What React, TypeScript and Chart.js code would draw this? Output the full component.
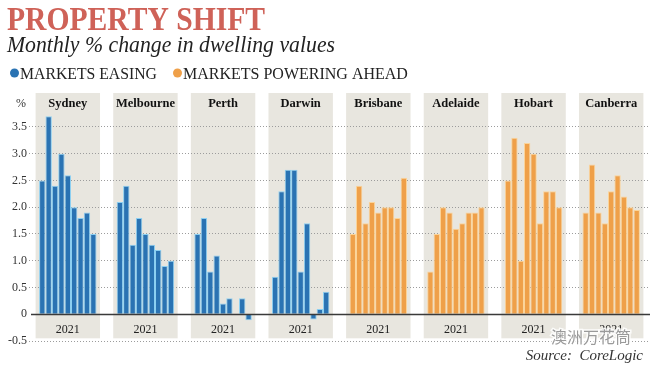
import React, { useEffect, useRef } from 'react';
import { Chart, registerables } from 'chart.js';

Chart.register(...registerables);

// ---------- data ----------
const cities = ['Sydney', 'Melbourne', 'Perth', 'Darwin', 'Brisbane', 'Adelaide', 'Hobart', 'Canberra'];
const easingCount = 4; // first four cities are "markets easing"
const periodLabel = '2021';

const sydney = [2.5, 3.7, 2.4, 3.0, 2.6, 2.0, 1.8, 1.9, 1.5];
const melbourne = [2.1, 2.4, 1.3, 1.8, 1.5, 1.3, 1.2, 0.9, 1.0];
const perth = [1.5, 1.8, 0.8, 1.1, 0.2, 0.3, 0, 0.3, -0.11];
const darwin = [0.7, 2.3, 2.7, 2.7, 0.8, 1.7, -0.1, 0.1, 0.42];
const brisbane = [1.5, 2.4, 1.7, 2.1, 1.9, 2.0, 2.0, 1.8, 2.55];
const adelaide = [0.8, 1.5, 2.0, 1.9, 1.6, 1.7, 1.9, 1.9, 2.0];
const hobart = [2.5, 3.3, 1.0, 3.2, 3.0, 1.7, 2.3, 2.3, 2.0];
const canberra = [1.9, 2.8, 1.9, 1.7, 2.3, 2.6, 2.2, 2.0, 1.95];

const cityValues = [sydney, melbourne, perth, darwin, brisbane, adelaide, hobart, canberra];
const monthCount = 9;

const yTicks = [-0.5, 0, 0.5, 1, 1.5, 2, 2.5, 3, 3.5];
const legendLabels = ['MARKETS EASING', 'MARKETS POWERING AHEAD'];
const titleText = 'PROPERTY SHIFT';
const subtitleText = 'Monthly % change in dwelling values';
const sourceText = 'Source:  CoreLogic';
const watermarkText = '澳洲万花筒';

// ---------- styles ----------
const BLUE = '#2a73b3';
const BLUE_EDGE = '#8ccff1';
const ORANGE = '#efa049';
const ORANGE_EDGE = '#fbd49a';
const PANEL = '#e8e6df';
const TITLE_RED = '#cf6258';
const SERIF = '"Liberation Serif", "DejaVu Serif", serif';

const panelPlugin = {
  id: 'panels',
  beforeDraw(chart: any) {
    const { ctx, chartArea } = chart;
    const x = chart.scales.x;
    const y = chart.scales.y;
    const step = x.width / cities.length;
    const w = step * 0.83;
    const bottom = y.getPixelForValue(-0.45);
    ctx.save();
    ctx.fillStyle = PANEL;
    cities.forEach((_, i) => {
      const cx = x.getPixelForValue(i);
      ctx.fillRect(cx - w / 2, chartArea.top, w, bottom - chartArea.top);
    });
    ctx.restore();
  },
  afterDatasetsDraw(chart: any) {
    const { ctx, chartArea } = chart;
    const y = chart.scales.y;
    const y0 = Math.round(y.getPixelForValue(0)) + 0.5;
    ctx.save();
    ctx.strokeStyle = '#3a3a3a';
    ctx.lineWidth = 1.5;
    ctx.beginPath();
    ctx.moveTo(chartArea.left + 2, y0);
    ctx.lineTo(chartArea.right, y0);
    ctx.stroke();
    ctx.restore();
  },
  afterDraw(chart: any) {
    const { ctx } = chart;
    const x = chart.scales.x;
    const y = chart.scales.y;
    ctx.save();
    // title
    ctx.textAlign = 'left';
    ctx.textBaseline = 'alphabetic';
    ctx.fillStyle = TITLE_RED;
    ctx.font = `bold 33px ${SERIF}`;
    ctx.fillText(titleText, 7, 29.5, 258);
    // subtitle
    ctx.fillStyle = '#222';
    ctx.font = `italic 24px ${SERIF}`;
    ctx.fillText(subtitleText, 7, 52, 328);
    // legend
    ctx.font = `16px ${SERIF}`;
    ctx.fillStyle = BLUE;
    ctx.beginPath();
    ctx.arc(14.5, 73, 4.5, 0, Math.PI * 2);
    ctx.fill();
    ctx.fillStyle = '#222';
    ctx.fillText(legendLabels[0], 20, 79, 137);
    ctx.fillStyle = ORANGE;
    ctx.beginPath();
    ctx.arc(177.5, 73, 4.5, 0, Math.PI * 2);
    ctx.fill();
    ctx.fillStyle = '#222';
    ctx.fillText(legendLabels[1], 183, 79, 225);

    // % unit label
    ctx.textBaseline = 'middle';
    ctx.textAlign = 'right';
    ctx.font = `12px ${SERIF}`;
    ctx.fillStyle = '#333';
    ctx.fillText('%', 26, 104);

    // city names & period labels
    ctx.textAlign = 'center';
    cities.forEach((c, i) => {
      const cx = x.getPixelForValue(i);
      ctx.font = `bold 12.5px ${SERIF}`;
      ctx.fillStyle = '#111';
      ctx.fillText(c, cx, 104);
      ctx.font = `12px ${SERIF}`;
      ctx.fillStyle = '#222';
      ctx.fillText(periodLabel, cx, y.getPixelForValue(-0.3));
    });

    // watermark
    ctx.textAlign = 'left';
    ctx.font = `16px "Noto Sans CJK SC", sans-serif`;
    ctx.lineWidth = 3;
    ctx.strokeStyle = 'rgba(255,255,255,0.85)';
    ctx.strokeText(watermarkText, 551, 337);
    ctx.fillStyle = '#9a9a9a';
    ctx.fillText(watermarkText, 551, 337);

    // source
    ctx.textAlign = 'right';
    ctx.textBaseline = 'alphabetic';
    ctx.font = `italic 15px ${SERIF}`;
    ctx.fillStyle = '#333';
    ctx.fillText(sourceText, 643, 360);
    ctx.restore();
  },
};

export default function App() {
  const ref = useRef<HTMLCanvasElement | null>(null);

  useEffect(() => {
    document.body.style.margin = '0';
    const canvas = ref.current;
    if (!canvas) return;

    const datasets = Array.from({ length: monthCount }, (_, m) => ({
      label: `M${m + 1}`,
      data: cityValues.map((v) => v[m]),
      backgroundColor: cities.map((_, i) => (i < easingCount ? BLUE : ORANGE)),
      borderColor: cities.map((_, i) => (i < easingCount ? BLUE_EDGE : ORANGE_EDGE)),
      borderWidth: 1,
      categoryPercentage: 0.74,
      barPercentage: 1,
    }));

    const chart = new Chart(canvas, {
      type: 'bar',
      data: { labels: cities, datasets },
      options: {
        responsive: false,
        animation: false,
        devicePixelRatio: 1,
        layout: { padding: { top: 93, bottom: 25, left: 0, right: 0 } },
        plugins: {
          legend: { display: false },
          title: { display: false },
          tooltip: { enabled: false },
        },
        scales: {
          x: { display: false },
          y: {
            min: -0.5,
            max: 4.135,
            afterBuildTicks(scale: any) {
              scale.ticks = yTicks.map((v) => ({ value: v }));
            },
            afterFit(scale: any) {
              scale.width = 29;
            },
            ticks: {
              padding: 2,
              color: '#333',
              font: { family: SERIF, size: 12 },
              callback: (v: any) => (Number(v) === 0 ? '0' : Number(v).toFixed(1)),
            },
            grid: {
              drawTicks: false,
              color: (c: any) => (c.tick && c.tick.value === 0 ? 'rgba(0,0,0,0)' : '#9c9c9c'),
              lineWidth: 1,
            },
            border: { display: false, dash: [1, 2] },
          },
        },
      },
      plugins: [panelPlugin],
    });

    return () => chart.destroy();
  }, []);

  return <canvas ref={ref} width={650} height={366} style={{ display: 'block', width: 650, height: 366 }} />;
}
